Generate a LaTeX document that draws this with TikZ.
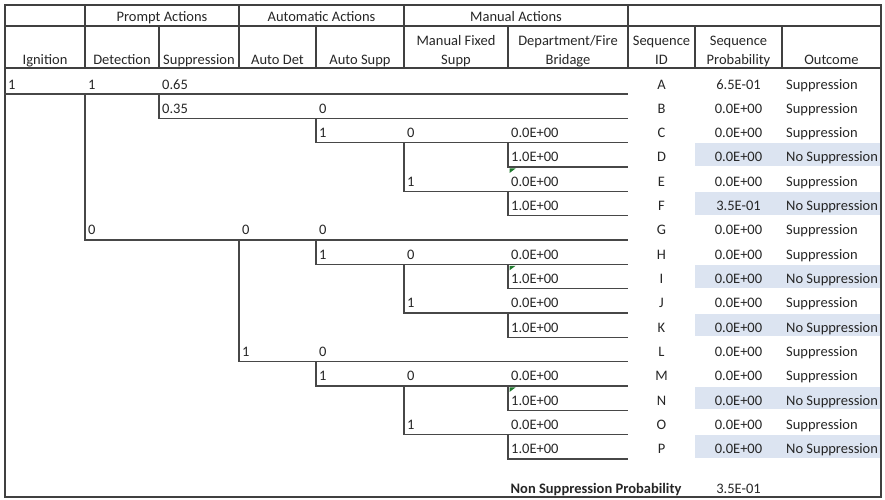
\documentclass[tikz,border=0pt]{standalone}
\usepackage{fontspec}
\setmainfont{Carlito}
\definecolor{rowblue}{HTML}{DCE4F1}
\definecolor{flaggreen}{HTML}{1F7A2E}
\definecolor{inkgray}{HTML}{262626}
% bottom edge of event-tree row #1 (0 = A ... 15 = P)
\newcommand\ry[1]{94+24.33*#1}
\begin{document}
\begin{tikzpicture}[x=1pt,y=-1pt,
  font=\fontsize{14.5}{17}\selectfont,
  grid/.style={draw=black!75, line width=1.2pt},
  branch/.style={draw=black!72, line width=1.3pt, line cap=rect},
  txt/.style={inner sep=0pt, text=inkgray},
  lab/.style={txt, anchor=base west},
  ctr/.style={txt, anchor=base},
  shade/.style={fill=rowblue, draw=none},
  flag/.style={fill=flaggreen, draw=none}]

\useasboundingbox (0,0) rectangle (885,499);

% shaded rows of the non-suppression outcomes
\foreach \rw in {3,5,8,10,13,15}
  \fill[shade] (695,{\ry{\rw}-23.8}) rectangle (880,{\ry{\rw}-1});

% table frame and header grid
\draw[grid] (5,5) rectangle (881,497);
\draw[grid] (5,26) -- (881,26);
\draw[grid] (5,68) -- (881,68);
\foreach \x in {85,239,404,628} \draw[grid] (\x,5) -- (\x,26);
\foreach \x in {85,159,239,316,404,508,628,695,782} \draw[grid] (\x,26) -- (\x,68);

% header texts
\node[ctr] (h-prompt) at (162,21) {Prompt Actions};
\node[ctr] (h-auto)   at (321.5,21) {Automatic Actions};
\node[ctr] (h-manual) at (516,21) {Manual Actions};

\node[ctr] (h-ign)   at (45,64)  {Ignition};
\node[ctr] (h-det)   at (122,64) {Detection};
\node[ctr] (h-sup)   at (199,64) {Suppression};
\node[ctr] (h-adet)  at (277.5,64) {Auto Det};
\node[ctr] (h-asup)  at (360,64) {Auto Supp};
\node[ctr] (h-mfs1)  at (456,45) {Manual Fixed};
\node[ctr] (h-mfs2)  at (456,64) {Supp};
\node[ctr] (h-dep1)  at (568,45) {Department/Fire};
\node[ctr] (h-dep2)  at (568,64) {Bridage};
\node[ctr] (h-sid1)  at (661.5,45) {Sequence};
\node[ctr] (h-sid2)  at (661.5,64) {ID};
\node[ctr] (h-spr1)  at (738.5,45) {Sequence};
\node[ctr] (h-spr2)  at (738.5,64) {Probability};
\node[ctr] (h-out)   at (831.5,64) {Outcome};

% branch lines: start of each sequence line and common right end
\foreach \ltr/\rw/\x in {A/0/5, B/1/159, C/2/316, D/3/508, E/4/404, F/5/508,
                         G/6/85, H/7/316, I/8/508, J/9/404, K/10/508, L/11/239,
                         M/12/316, N/13/508, O/14/404, P/15/508} {
  \coordinate (\ltr-start) at (\x,{\ry{\rw}});
  \coordinate (\ltr-end) at (627,{\ry{\rw}});
}
\foreach \ltr in {A,B,C,D,E,F,G,H,I,J,K,L,M,N,O,P}
  \draw[branch] (\ltr-start) -- (\ltr-end);

% vertical drops from a parent line to each child line
\foreach \child/\parent in {G/A, B/A, C/B, E/C, D/C, F/E, L/G, H/G,
                            J/H, I/H, K/J, M/L, O/M, N/M, P/O}
  \draw[branch] (\child-start |- \parent-end) -- (\child-start);

% small green cell markers
\fill[flag] ([shift={(1.5,1.5)}]D-start) -- ++(6,0) -- ++(-6,4.5) -- cycle;
\fill[flag] ([shift={(1.5,1.5)}]I-start |- H-end) -- ++(6,0) -- ++(-6,4.5) -- cycle;
\fill[flag] ([shift={(1.5,1.5)}]N-start |- M-end) -- ++(6,0) -- ++(-6,4.5) -- cycle;

% branch values
\foreach \x/\rw/\t [count=\n] in {
    5/0/1, 85/0/1, 159/0/0.65,
    159/1/0.35, 316/1/0,
    316/2/1, 404/2/0, 508/2/0.0E+00,
    508/3/1.0E+00,
    404/4/1, 508/4/0.0E+00,
    508/5/1.0E+00,
    85/6/0, 239/6/0, 316/6/0,
    316/7/1, 404/7/0, 508/7/0.0E+00,
    508/8/1.0E+00,
    404/9/1, 508/9/0.0E+00,
    508/10/1.0E+00,
    239/11/1, 316/11/0,
    316/12/1, 404/12/0, 508/12/0.0E+00,
    508/13/1.0E+00,
    404/14/1, 508/14/0.0E+00,
    508/15/1.0E+00}
  \node[lab] (v\n) at ({\x+3},{\ry{\rw}-5}) {\t};

% sequence id, probability and outcome
\foreach \ltr/\rw/\prob/\res in {
    A/0/6.5E-01/Suppression, B/1/0.0E+00/Suppression,
    C/2/0.0E+00/Suppression, D/3/0.0E+00/No Suppression,
    E/4/0.0E+00/Suppression, F/5/3.5E-01/No Suppression,
    G/6/0.0E+00/Suppression, H/7/0.0E+00/Suppression,
    I/8/0.0E+00/No Suppression, J/9/0.0E+00/Suppression,
    K/10/0.0E+00/No Suppression, L/11/0.0E+00/Suppression,
    M/12/0.0E+00/Suppression, N/13/0.0E+00/No Suppression,
    O/14/0.0E+00/Suppression, P/15/0.0E+00/No Suppression} {
  \node[ctr] (id-\ltr)  at (661.5,{\ry{\rw}-5}) {\ltr};
  \node[ctr] (pr-\ltr)  at (738.5,{\ry{\rw}-5}) {\prob};
  \node[lab] (out-\ltr) at (786,{\ry{\rw}-5}) {\res};
}

% total
\node[ctr] (nsp-label) at (596,493) {\bfseries Non Suppression Probability};
\node[ctr] (nsp-value) at (738.5,493) {3.5E-01};
\end{tikzpicture}
\end{document}
